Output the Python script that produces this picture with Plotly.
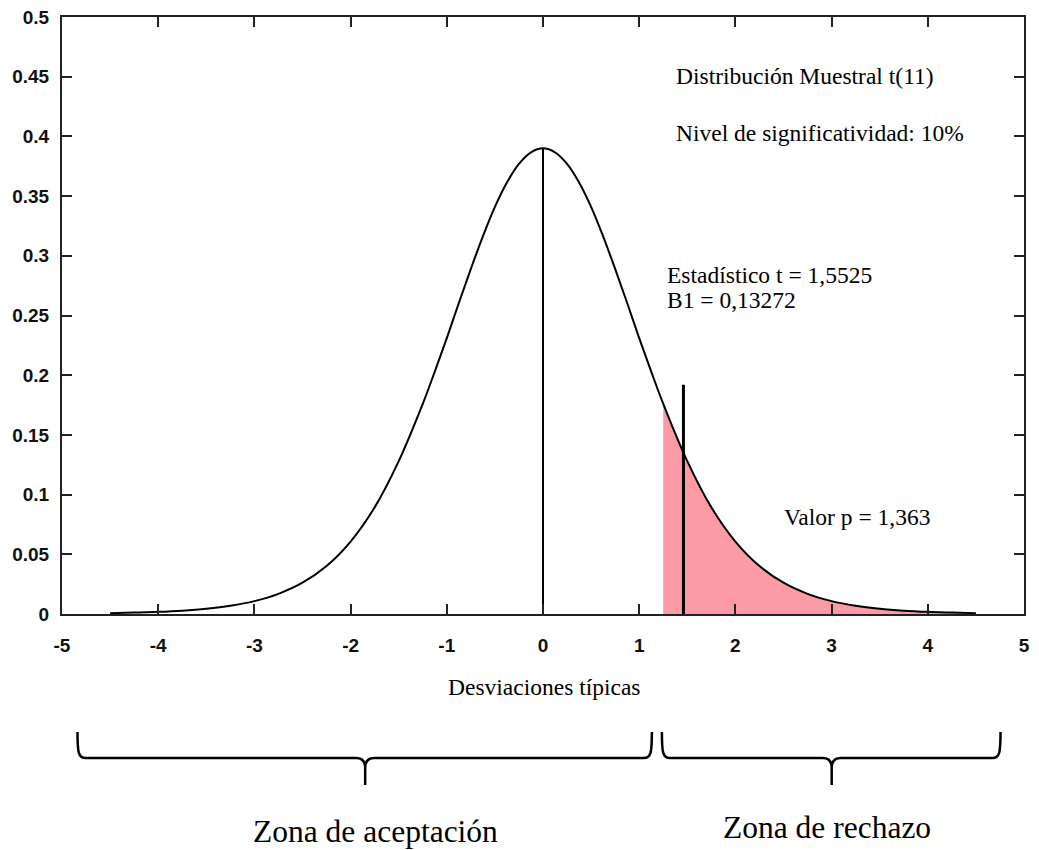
import plotly.graph_objects as go

# ---- data ----
curve_x = [-4.5, -4.25, -4.0, -3.75, -3.5, -3.25, -3.0, -2.75, -2.5, -2.25, -2.0,
           -1.75, -1.5, -1.25, -1.125, -1.0, -0.875, -0.75, -0.625, -0.5, -0.375,
           -0.25, -0.125, 0.0, 0.125, 0.25, 0.375, 0.5, 0.625, 0.75, 0.875, 1.0,
           1.125, 1.25, 1.5, 1.75, 2.0, 2.25, 2.5, 2.75, 3.0, 3.25, 3.5, 3.75,
           4.0, 4.25, 4.5]
curve_y = [0.0007, 0.0012, 0.0018, 0.0028, 0.0044, 0.0069, 0.0108, 0.0169, 0.0262,
           0.0402, 0.0607, 0.0893, 0.128, 0.176, 0.203, 0.231, 0.2605, 0.289, 0.3163,
           0.341, 0.3614, 0.377, 0.3867, 0.390, 0.3867, 0.377, 0.3614, 0.341, 0.3163,
           0.289, 0.2605, 0.231, 0.203, 0.176, 0.128, 0.0893, 0.0607, 0.0402, 0.0262,
           0.0169, 0.0108, 0.0069, 0.0044, 0.0028, 0.0018, 0.0012, 0.0007]

shade_start = 1.25          # start of rejection zone shading
peak_x, peak_y = 0.0, 0.390  # centre line
stat_x, stat_top = 1.46, 0.192  # statistic marker line

x_tickvals = [-5, -4, -3, -2, -1, 0, 1, 2, 3, 4, 5]
x_ticktext = ["-5", "-4", "-3", "-2", "-1", "0", "1", "2", "3", "4", "5"]
y_tickvals = [0, 0.05, 0.1, 0.15, 0.2, 0.25, 0.3, 0.35, 0.4, 0.45, 0.5]
y_ticktext = ["0", "0.05", "0.1", "0.15", "0.2", "0.25", "0.3", "0.35", "0.4", "0.45", "0.5"]

# ---- figure geometry (reference pixel coordinates) ----
OFF = 8  # default page body margin in the browser
W, H = 1039 - OFF, 850 - OFF
L, R, T, B = 61.5, 1024.5, 16.7, 614.0
SERIF = "Liberation Serif, Times New Roman, serif"
SANS = "Liberation Sans, Arial, sans-serif"

fig = go.Figure()

shade_x = [x for x in curve_x if x >= shade_start]
shade_y = [y for x, y in zip(curve_x, curve_y) if x >= shade_start]
fig.add_trace(go.Scatter(x=shade_x, y=shade_y, mode="lines", fill="tozeroy",
                         fillcolor="#FC9BA5", line=dict(width=0, shape="spline"),
                         hoverinfo="skip", showlegend=False))
fig.add_trace(go.Scatter(x=curve_x, y=curve_y, mode="lines",
                         line=dict(color="black", width=2, shape="spline"),
                         showlegend=False))
fig.add_trace(go.Scatter(x=[peak_x, peak_x], y=[0, peak_y], mode="lines",
                         line=dict(color="black", width=2), showlegend=False))
fig.add_trace(go.Scatter(x=[stat_x, stat_x], y=[0, stat_top], mode="lines",
                         line=dict(color="black", width=3), showlegend=False))

axis_common = dict(showgrid=False, zeroline=False, showline=True, mirror="ticks",
                   linecolor="#222", linewidth=2, ticks="inside", ticklen=10,
                   tickwidth=2, tickcolor="#222", automargin=False,
                   ticklabeloverflow="allow",
                   tickfont=dict(family=SANS, size=19, color="#111", weight="bold"))
fig.update_xaxes(range=[-5, 5], tickvals=x_tickvals, ticktext=x_ticktext,
                 ticklabelstandoff=13, **axis_common)
fig.update_yaxes(range=[0, 0.5], tickvals=y_tickvals, ticktext=y_ticktext,
                 ticklabelstandoff=7, **axis_common)

# reference pixel -> paper helpers for decorations below the plot
def px(xp):
    return (xp - L) / (R - L)

def py(yp):
    return (B - yp) / (B - T)

def brace(xl, xr, xm, ytop, ybar, ytip):
    pts = [
        f"M {px(xl)},{py(ytop)}",
        f"C {px(xl)},{py(ybar-5)} {px(xl+1)},{py(ybar)} {px(xl+8)},{py(ybar)}",
        f"L {px(xm-9)},{py(ybar)}",
        f"Q {px(xm)},{py(ybar)} {px(xm)},{py(ybar+10)}",
        f"L {px(xm)},{py(ytip)}",
        f"M {px(xm)},{py(ybar+10)}",
        f"Q {px(xm)},{py(ybar)} {px(xm+9)},{py(ybar)}",
        f"L {px(xr-8)},{py(ybar)}",
        f"C {px(xr-1)},{py(ybar)} {px(xr)},{py(ybar-5)} {px(xr)},{py(ytop)}",
    ]
    return " ".join(pts)

for (xl, xr, xm) in [(77, 652, 365), (662, 1001, 832)]:
    fig.add_shape(type="path", xref="paper", yref="paper",
                  path=brace(xl, xr, xm, 732, 758, 785),
                  line=dict(color="black", width=2.5))

def ann(text, x, y, size, xanchor="left", xref="x", yref="y"):
    fig.add_annotation(text=text, x=x, y=y, xref=xref, yref=yref, showarrow=False,
                       xanchor=xanchor, yanchor="middle",
                       font=dict(family=SERIF, size=size, color="black"))

ann("Distribución Muestral t(11)", 1.36, 0.451, 23.5)
ann("Nivel de significatividad: 10%", 1.36, 0.4026, 23.5)
ann("Estadístico t = 1,5525", 1.267, 0.2838, 23.5)
ann("B1 = 0,13272", 1.267, 0.2628, 23.5)
ann("Valor p = 1,363", 2.482, 0.0812, 23.5)
ann("Desviaciones típicas", px(545), py(687), 23.5, xanchor="center",
    xref="paper", yref="paper")
ann("Zona de aceptación", px(375), py(832), 31.5, xanchor="center",
    xref="paper", yref="paper")
ann("Zona de rechazo", px(827), py(828), 31.5, xanchor="center",
    xref="paper", yref="paper")

fig.update_layout(width=W, height=H, autosize=False,
                  margin=dict(l=L - OFF, r=1039 - R, t=T - OFF, b=850 - B, pad=0),
                  paper_bgcolor="white", plot_bgcolor="white",
                  showlegend=False)

fig.write_html("out.html")
